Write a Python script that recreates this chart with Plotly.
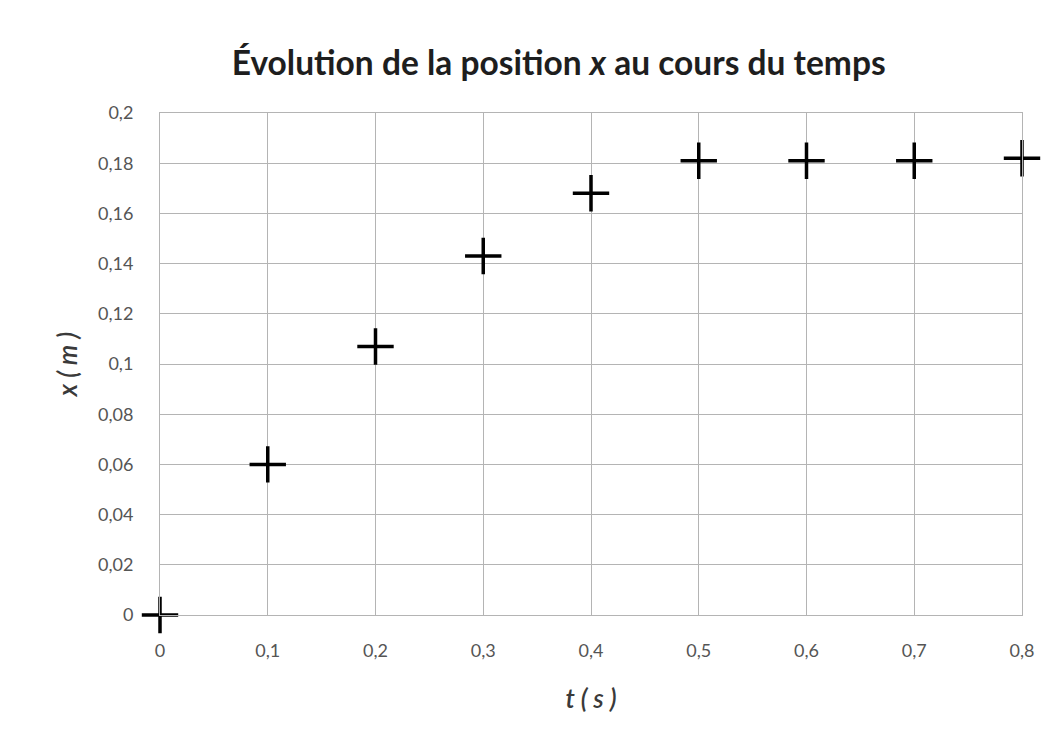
import plotly.graph_objects as go

t_values = [0, 0.1, 0.2, 0.3, 0.4, 0.5, 0.6, 0.7, 0.8]
x_values = [0, 0.060, 0.107, 0.143, 0.168, 0.181, 0.181, 0.181, 0.182]

x_tickvals = [0, 0.1, 0.2, 0.3, 0.4, 0.5, 0.6, 0.7, 0.8]
x_ticktext = ["0", "0,1", "0,2", "0,3", "0,4", "0,5", "0,6", "0,7", "0,8"]
y_tickvals = [0, 0.02, 0.04, 0.06, 0.08, 0.1, 0.12, 0.14, 0.16, 0.18, 0.2]
y_ticktext = ["0", "0,02", "0,04", "0,06", "0,08", "0,1", "0,12", "0,14", "0,16", "0,18", "0,2"]

font_family = "Lato, Open Sans, sans-serif"
grid_color = "#b4b4b4"

fig = go.Figure()
fig.add_trace(go.Scatter(
    x=t_values, y=x_values, mode="markers",
    marker=dict(symbol="cross-thin", size=26, color="black",
                line=dict(color="black", width=3.5)),
    showlegend=False, cliponaxis=False,
))

fig.update_layout(
    width=1055, height=731,
    paper_bgcolor="white", plot_bgcolor="white",
    margin=dict(l=152, r=41, t=105, b=124),
    title=dict(text="<b>Évolution de la position <i>x</i> au cours du temps</b>",
               x=0.522, xanchor="center", y=0.925, yanchor="middle",
               font=dict(family=font_family, size=33.5, color="#1e1e1e")),
    xaxis=dict(range=[0, 0.8], tickvals=x_tickvals, ticktext=x_ticktext,
               showgrid=True, gridcolor=grid_color, gridwidth=1,
               showline=True, linecolor=grid_color, linewidth=1, mirror=True,
               zeroline=False, ticks="", ticklabelstandoff=19,
               tickfont=dict(family=font_family, size=18, color="#555555"),
               title=dict(text="<i>t ( s )</i>", standoff=30,
                          font=dict(family=font_family, size=26, color="#3a3a3a",
                                    weight=600))),
    yaxis=dict(range=[0, 0.2], tickvals=y_tickvals, ticktext=y_ticktext,
               showgrid=True, gridcolor=grid_color, gridwidth=1,
               showline=True, linecolor=grid_color, linewidth=1, mirror=True,
               zeroline=False, ticks="", ticklabelstandoff=22,
               tickfont=dict(family=font_family, size=18, color="#555555"),
               title=dict(text="<i>x ( m )</i>", standoff=12,
                          font=dict(family=font_family, size=26, color="#3a3a3a",
                                    weight=600))),
)

fig.write_html("out.html")
